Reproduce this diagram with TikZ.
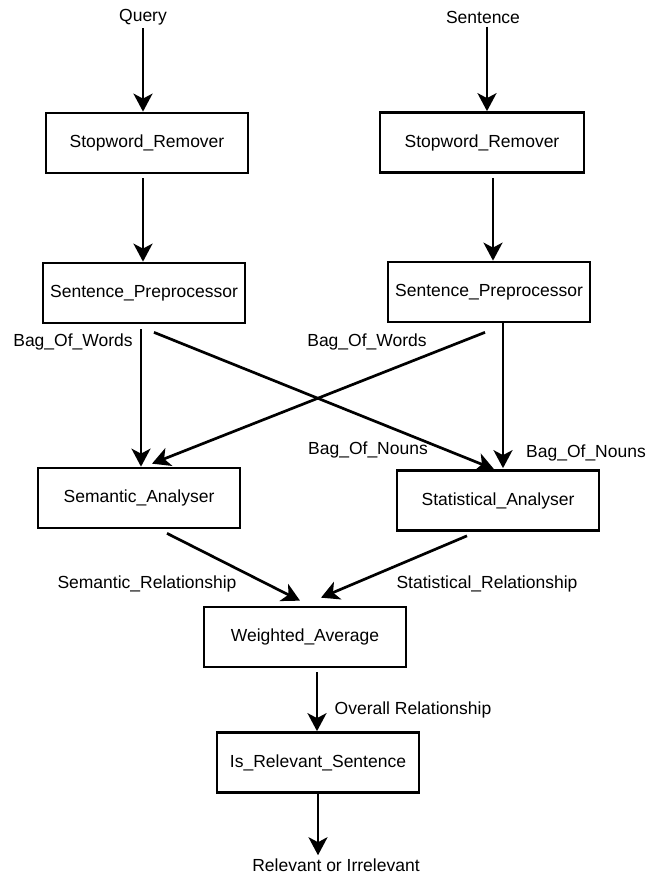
\documentclass[tikz,border=0pt]{standalone}
\usepackage{fontspec}
\setmainfont{Liberation Sans}
\usetikzlibrary{arrows.meta}

\begin{document}
\begin{tikzpicture}[x=1pt,y=-1pt,line width=2.7pt,
  >={Stealth[length=18pt,width=19pt,inset=5pt]},
  font=\fontsize{17.5}{20}\selectfont,
  box/.style={draw,minimum width=202pt,minimum height=60pt,inner sep=0pt},
  lbl/.style={inner sep=2pt}]

\useasboundingbox (0,0) rectangle (646,875);

\node[lbl] (query) at (143,17) {Query};
\node[lbl] (sentence) at (483,17) {Sentence};

\node[box] (sr1) at (147,143) {Stopword\_Remover};
\node[box,minimum width=204pt] (sr2) at (482,142.5) {Stopword\_Remover};
\node[box] (sp1) at (144,293) {Sentence\_Preprocessor};
\node[box] (sp2) at (489,292) {Sentence\_Preprocessor};
\node[box] (sem) at (139,498) {Semantic\_Analyser};
\node[box] (stat) at (498,500.5) {Statistical\_Analyser};
\node[box] (wa) at (305,637) {Weighted\_Average};
\node[box] (irs) at (318,762.5) {Is\_Relevant\_Sentence};

\node[lbl] (out) at (336,865) {Relevant or Irrelevant};

\node[lbl] at (73,342) {Bag\_Of\_Words};
\node[lbl] at (367,342) {Bag\_Of\_Words};
\node[lbl] at (368,450) {Bag\_Of\_Nouns};
\node[lbl] at (586,453) {Bag\_Of\_Nouns};
\node[lbl] at (147,584) {Semantic\_Relationship};
\node[lbl] at (487,584) {Statistical\_Relationship};
\node[lbl] at (413,710) {Overall Relationship};


\draw[->] (query) -- (query |- sr1.north);
\draw[->] ([xshift=4pt]sentence.south) -- ([xshift=4pt]sentence.south |- sr2.north);
\draw[->] ([xshift=-4pt,yshift=-4pt]sr1.south) -- ([xshift=-1pt]sp1.north);
\draw[->] ([xshift=11pt,yshift=-4pt]sr2.south) -- ([xshift=4pt]sp2.north);
\draw[->] ([xshift=-3pt,yshift=-5pt]sp1.south) -- ([xshift=2pt]sem.north);
\draw[->] ([xshift=10pt,yshift=-8pt]sp1.south) -- ([xshift=-4pt]stat.north);
\draw[->] ([xshift=-4pt,yshift=-9pt]sp2.south) -- ([xshift=13pt,yshift=3pt]sem.north);
\draw[->] ([xshift=14pt]sp2.south) -- ([xshift=5pt,yshift=1pt]stat.north);
\draw[->] ([xshift=28pt,yshift=-4pt]sem.south) -- ([xshift=-5pt,yshift=5pt]wa.north);
\draw[->] ([xshift=-31pt,yshift=-4pt]stat.south) -- ([xshift=16pt,yshift=8pt]wa.north);
\draw[->] ([xshift=12pt,yshift=-4pt]wa.south) -- ([xshift=12pt]wa.south |- irs.north);
\draw[->] (irs.south) -- (irs.south |- out.north);


\end{tikzpicture}
\end{document}
